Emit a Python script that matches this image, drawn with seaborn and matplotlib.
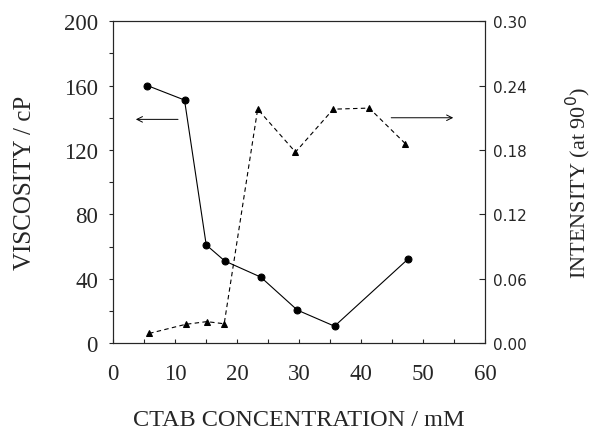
import matplotlib
matplotlib.use("Agg")
import matplotlib.pyplot as plt
import seaborn as sns
import pandas as pd
from matplotlib.ticker import MultipleLocator

sns.set_style("ticks")
plt.rcParams['font.family'] = ['Liberation Serif', 'DejaVu Serif']

# Data
visc_conc = [5.5, 11.5, 15.0, 18.0, 23.8, 29.7, 35.7, 47.5]
viscosity = [160, 151, 61, 51, 41, 20.5, 10.5, 52]
int_conc = [5.8, 11.7, 15.1, 17.9, 23.3, 29.4, 35.5, 41.3, 47.1]
intensity = [0.009, 0.0175, 0.020, 0.018, 0.218, 0.178, 0.218, 0.219, 0.186]
x_ticks = [0, 10, 20, 30, 40, 50, 60]
left_ticks = [0, 40, 80, 120, 160, 200]
right_ticks = [0.00, 0.06, 0.12, 0.18, 0.24, 0.30]

df_v = pd.DataFrame({"conc": visc_conc, "visc": viscosity})
df_i = pd.DataFrame({"conc": int_conc, "inten": intensity})

fig = plt.figure(figsize=(5.96, 4.35), dpi=100)
ax = fig.add_axes([0.19, 0.209, 0.624, 0.74])
ax2 = ax.twinx()

sns.lineplot(data=df_v, x="conc", y="visc", ax=ax, color="black", lw=0.8,
             marker="o", markersize=5, markeredgecolor="black")
sns.lineplot(data=df_i, x="conc", y="inten", ax=ax2, color="black", lw=0.8,
             linestyle=(0, (4, 3)), marker="^", markersize=5, markeredgecolor="black")

ax.set_xlim(0, 60)
ax.set_ylim(0, 200)
ax2.set_ylim(0, 0.30)
ax.set_xticks(x_ticks)
ax.set_yticks(left_ticks)
ax2.set_yticks(right_ticks)
ax.yaxis.set_minor_locator(MultipleLocator(20))
ax.xaxis.set_minor_locator(MultipleLocator(5))
ax2.set_yticklabels([f"{v:.2f}" for v in right_ticks], family="DejaVu Sans", fontsize=11)
ax.set_xticklabels([str(v) for v in x_ticks], fontsize=16.5)
ax.set_yticklabels([str(v) for v in left_ticks], fontsize=16.5)

ax.tick_params(axis="y", which="both", direction="out", length=3, width=0.8, pad=8)
ax.tick_params(axis="x", which="both", direction="in", length=3, width=0.8, pad=14)
ax2.tick_params(axis="y", direction="in", length=4, width=0.8, pad=6)
for a in (ax, ax2):
    for s in a.spines.values():
        s.set_linewidth(0.8)

ax.set_xlabel("CTAB CONCENTRATION / mM", fontsize=17.5, labelpad=18)
ax.set_ylabel("VISCOSITY / cP", fontsize=18, labelpad=20)
ax2.set_ylabel("INTENSITY (at 90$^0$)", fontsize=16, labelpad=26)

# arrows indicating axes
ax.annotate("", xy=(3.2, 139), xytext=(10.9, 139),
            arrowprops=dict(arrowstyle="->", lw=0.7, color="black"))
ax.annotate("", xy=(55.3, 140), xytext=(44.4, 140),
            arrowprops=dict(arrowstyle="->", lw=0.7, color="black"))

fig.savefig("out.png", dpi=100)
